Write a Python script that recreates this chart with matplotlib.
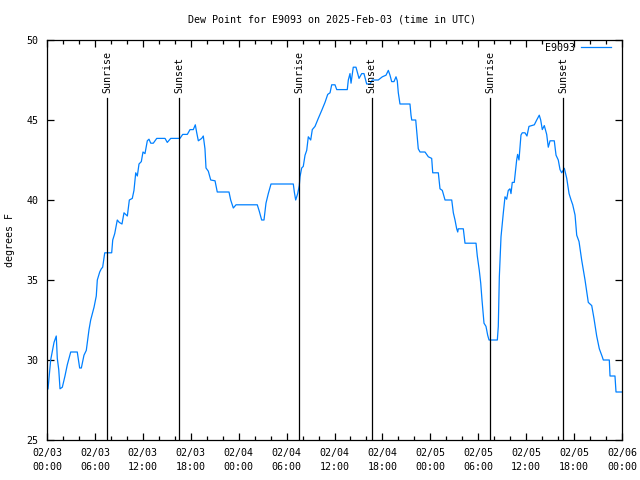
import matplotlib
matplotlib.use("Agg")
import matplotlib.pyplot as plt
from matplotlib.ticker import MultipleLocator, FuncFormatter
from datetime import datetime, timedelta

# dew point trace, hours since 2025-02-03 00:00 UTC
start = datetime(2025, 2, 3)
hours = [0.13, 0.46, 0.88, 1.16, 1.29, 1.47, 1.63, 1.92, 2.25, 2.54, 2.97, 3.79, 4.09, 4.30,
         4.63, 4.92, 5.26, 5.47, 5.89, 6.17, 6.30, 6.60, 6.80, 6.97, 7.23, 8.10, 8.23, 8.48,
         8.80, 9.05, 9.39, 9.64, 10.06, 10.31, 10.68, 10.89, 11.11, 11.31, 11.52, 11.81, 12.02,
         12.27, 12.56, 12.77, 12.99, 13.31, 13.74, 14.78, 15.06, 15.49, 16.65, 16.99, 17.57,
         17.91, 18.32, 18.57, 18.75, 18.95, 19.37, 19.57, 19.78, 19.91, 20.20, 20.50, 21.04,
         21.32, 22.79, 23.00, 23.33, 23.67, 26.33, 26.58, 26.88, 27.17, 27.42, 27.71, 28.05,
         30.84, 30.97, 31.14, 31.39, 31.59, 31.68, 31.89, 32.09, 32.31, 32.52, 32.72, 33.02,
         33.22, 33.56, 33.97, 34.40, 34.81, 35.15, 35.44, 35.65, 36.06, 36.28, 37.60, 37.73,
         37.94, 38.07, 38.35, 38.69, 39.07, 39.41, 39.69, 40.03, 40.45, 40.73, 41.48, 41.99,
         42.45, 42.74, 42.95, 43.16, 43.45, 43.70, 43.86, 43.99, 44.20, 45.45, 45.58, 45.67,
         46.17, 46.29, 46.49, 46.71, 47.33, 47.75, 48.17, 48.30, 49.00, 49.21, 49.50, 49.84,
         50.68, 50.88, 51.09, 51.30, 51.43, 51.50, 52.13, 52.34, 53.72, 53.88, 54.13, 54.31,
         54.47, 54.72, 54.97, 55.18, 55.35, 56.39, 56.51, 56.64, 56.85, 57.14, 57.35, 57.56,
         57.76, 57.97, 58.10, 58.26, 58.51, 58.81, 58.93, 59.10, 59.35, 59.51, 59.85, 60.10,
         60.35, 61.02, 61.32, 61.64, 61.82, 62.02, 62.27, 62.57, 62.77, 62.99, 63.52, 63.74,
         64.02, 64.24, 64.45, 64.78, 65.08, 65.37, 65.62, 65.83, 66.12, 66.33, 66.62, 66.95,
         67.37, 67.78, 68.21, 68.49, 68.83, 69.16, 69.53, 69.66, 70.41, 70.50, 71.12, 71.25,
         71.96]
dewpt = [28.2, 30.0, 31.1, 31.5, 30.1, 29.4, 28.2, 28.3, 29.0, 29.7, 30.5, 30.5, 29.5, 29.5,
         30.3, 30.6, 31.9, 32.5, 33.3, 34.0, 35.0, 35.5, 35.7, 35.8, 36.7, 36.7, 37.5, 37.9,
         38.75, 38.6, 38.5, 39.2, 39.0, 40.0, 40.1, 40.6, 41.7, 41.5, 42.25, 42.4, 43.0,
         42.9, 43.7, 43.8, 43.55, 43.55, 43.85, 43.85, 43.6, 43.85, 43.85, 44.1, 44.1,
         44.4, 44.4, 44.7, 44.2, 43.7, 43.85, 44.0, 43.2, 42.0, 41.8, 41.25, 41.2,
         40.5, 40.5, 40.0, 39.5, 39.7, 39.7, 39.3, 38.75, 38.75, 39.8, 40.4, 41.0,
         41.0, 40.5, 40.0, 40.4, 40.9, 41.45, 42.0, 42.1, 42.8, 43.1, 43.95, 43.75,
         44.4, 44.6, 45.1, 45.6, 46.1, 46.6, 46.7, 47.2, 47.2, 46.9, 46.9, 47.5,
         47.9, 47.3, 48.3, 48.3, 47.6, 47.9, 47.9, 47.25, 47.25, 47.5, 47.5, 47.7,
         47.8, 48.1, 47.8, 47.4, 47.4, 47.7, 47.45, 46.7, 46.0, 46.0, 45.3, 45.0,
         45.0, 44.3, 43.2, 43.0, 43.0, 42.7, 42.6, 41.7, 41.7, 40.7, 40.6, 40.0,
         40.0, 39.2, 38.75, 38.2, 38.0, 38.2, 38.2, 37.3, 37.3, 36.5, 35.6, 34.8,
         33.75, 32.3, 32.1, 31.55, 31.25, 31.25, 32.1, 35.2, 37.7, 39.2, 40.2, 40.05,
         40.6, 40.7, 40.4, 41.1, 41.1, 42.5, 42.85, 42.5, 44.06, 44.2, 44.2, 44.0,
         44.6, 44.7, 45.0, 45.3, 45.0, 44.4, 44.65, 44.1, 43.3, 43.7, 43.7, 42.8,
         42.5, 41.9, 41.7, 41.98, 41.35, 40.4, 40.0, 39.7, 39.06, 37.8, 37.4, 36.25,
         35.0, 33.6, 33.4, 32.6, 31.5, 30.7, 30.2, 30.0, 30.0, 29.0, 29.0, 28.0,
         28.0]

sun_hours = [7.55, 16.56, 31.6, 40.65, 55.5, 64.65]
sun_labels = ["Sunrise", "Sunset", "Sunrise", "Sunset", "Sunrise", "Sunset"]

FONT = "DejaVu Sans Mono"
FS = 7.2

fig = plt.figure(figsize=(6.4, 4.8), dpi=100)
ax = fig.add_axes([47 / 640, 40 / 480, 575 / 640, 400 / 480])

ax.plot(hours, dewpt, color="#0080ff", lw=0.9, label="E9093")

for h, lab in zip(sun_hours, sun_labels):
    ax.axvline(h, ymin=0, ymax=(440 - 98) / 400, color="black", lw=0.9)
    ax.text(h, (440 - 93) / 400, lab, rotation=90, ha="center", va="bottom",
            transform=ax.get_xaxis_transform(), fontsize=FS, family=FONT)

ax.set_xlim(0, 72)
ax.set_ylim(25, 50)
ax.xaxis.set_major_locator(MultipleLocator(6))
ax.xaxis.set_minor_locator(MultipleLocator(2))
ax.yaxis.set_major_locator(MultipleLocator(5))


def fmt_time(h, pos):
    t = start + timedelta(hours=h)
    return t.strftime("%m/%d\n%H:%M")


ax.xaxis.set_major_formatter(FuncFormatter(fmt_time))
ax.tick_params(which="both", direction="in", top=True, right=True, width=0.9)
ax.tick_params(which="major", length=5, pad=6)
ax.tick_params(which="minor", length=3)
for lbl in ax.get_xticklabels() + ax.get_yticklabels():
    lbl.set_family(FONT)
    lbl.set_fontsize(FS)
    lbl.set_linespacing(1.4)
for sp in ax.spines.values():
    sp.set_linewidth(0.9)

ax.set_ylabel("degrees F", family=FONT, fontsize=FS)
ax.yaxis.set_label_coords(-0.056, 0.5)
fig.text(332 / 640, 1 - 20 / 480, "Dew Point for E9093 on 2025-Feb-03 (time in UTC)",
         ha="center", va="center", family=FONT, fontsize=FS)

leg = ax.legend(loc="center right", bbox_to_anchor=((611 - 47) / 575, (440 - 48) / 400),
                frameon=False, markerfirst=False,
                prop={"family": FONT, "size": FS}, handlelength=3.0,
                borderaxespad=0, borderpad=0, handletextpad=0.6)

fig.savefig("out.png")
